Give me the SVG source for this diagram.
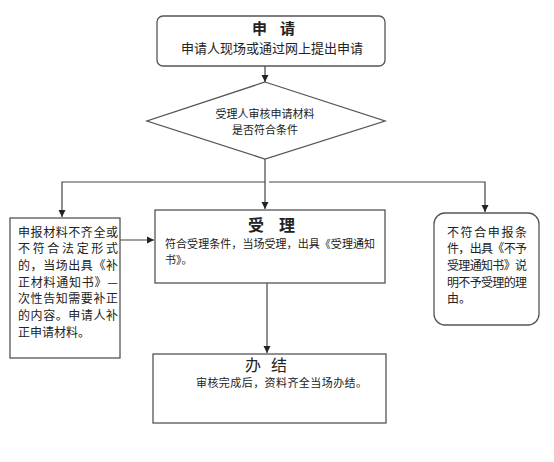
<svg xmlns="http://www.w3.org/2000/svg" width="554" height="462" viewBox="0 0 554 462">
<defs>
<style>
.box{fill:#fff;stroke:#555;stroke-width:1.3}
.ln{fill:none;stroke:#444;stroke-width:1.2}
text{font-family:"Noto Sans CJK SC","Noto Sans CJK TC",sans-serif;fill:#222}
.t{font-size:12px}
.s{font-size:11px}
.h{font-size:15px;font-weight:bold}
</style>
<marker id="ah" markerWidth="8" markerHeight="8" refX="7" refY="4" orient="auto" markerUnits="userSpaceOnUse">
<path d="M0,0.5 L7,4 L0,7.5 Z" fill="#222"/>
</marker>
</defs>
<rect width="554" height="462" fill="#fff"/>
<g id="connectors">
<line class="ln" x1="265" y1="66" x2="265" y2="82" marker-end="url(#ah)"/>
<line class="ln" x1="265" y1="159" x2="265" y2="209" marker-end="url(#ah)"/>
<polyline class="ln" points="265,182 62,182 62,217" marker-end="url(#ah)"/>
<polyline class="ln" points="269,182 485,182 485,212" marker-end="url(#ah)"/>
<line class="ln" x1="120" y1="240" x2="154" y2="240" marker-end="url(#ah)"/>
<line class="ln" x1="267" y1="283" x2="267" y2="353" marker-end="url(#ah)"/>
</g>
<g id="apply">
<rect class="box" x="157" y="16" width="228" height="50" rx="6"/>
<text class="h" x="252" y="34" textLength="43" lengthAdjust="spacing">申请</text>
<text x="272" y="53" text-anchor="middle" font-size="13">申请人现场或通过网上提出申请</text>
</g>
<g id="review">
<polygon class="box" points="265,82 385,121 265,159 147,121"/>
<text class="s" x="265" y="118" text-anchor="middle">受理人审核申请材料</text>
<text class="s" x="265" y="134" text-anchor="middle">是否符合条件</text>
</g>
<g id="supplement">
<rect class="box" x="10" y="218" width="110" height="140"/>
<text class="t" x="18" y="237" textLength="100" lengthAdjust="spacing">申报材料不齐全或</text>
<text class="t" x="18" y="253" textLength="100" lengthAdjust="spacing">不符合法定形式</text>
<text class="t" x="18" y="270" textLength="100" lengthAdjust="spacing">的，当场出具《补</text>
<text class="t" x="18" y="287" textLength="100" lengthAdjust="spacing">正材料通知书》—</text>
<text class="t" x="18" y="303" textLength="100" lengthAdjust="spacing">次性告知需要补正</text>
<text class="t" x="18" y="320" textLength="100" lengthAdjust="spacing">的内容。申请人补</text>
<text class="t" x="18" y="337">正申请材料。</text>
</g>
<g id="accept">
<rect class="box" x="155" y="210" width="230" height="73"/>
<text x="248" y="231" font-size="16" font-weight="bold" textLength="47" lengthAdjust="spacing">受理</text>
<text class="s" x="165" y="248" textLength="210" lengthAdjust="spacing">符合受理条件，当场受理，出具《受理通知</text>
<text class="s" x="165" y="264">书》。</text>
</g>
<g id="reject">
<rect class="box" x="434" y="213" width="105" height="112" rx="11"/>
<text class="t" x="447" y="237" textLength="80" lengthAdjust="spacing">不符合申报条</text>
<text class="t" x="447" y="253" textLength="80" lengthAdjust="spacing">件，出具《不予</text>
<text class="t" x="447" y="270" textLength="80" lengthAdjust="spacing">受理通知书》说</text>
<text class="t" x="447" y="287" textLength="80" lengthAdjust="spacing">明不予受理的理</text>
<text class="t" x="447" y="303">由。</text>
</g>
<g id="finish">
<rect class="box" x="153" y="354" width="233" height="69"/>
<text x="245" y="371" font-size="16" textLength="42" lengthAdjust="spacing">办结</text>
<text class="s" x="196" y="387" textLength="171" lengthAdjust="spacing">审核完成后，资料齐全当场办结。</text>
</g>
</svg>
